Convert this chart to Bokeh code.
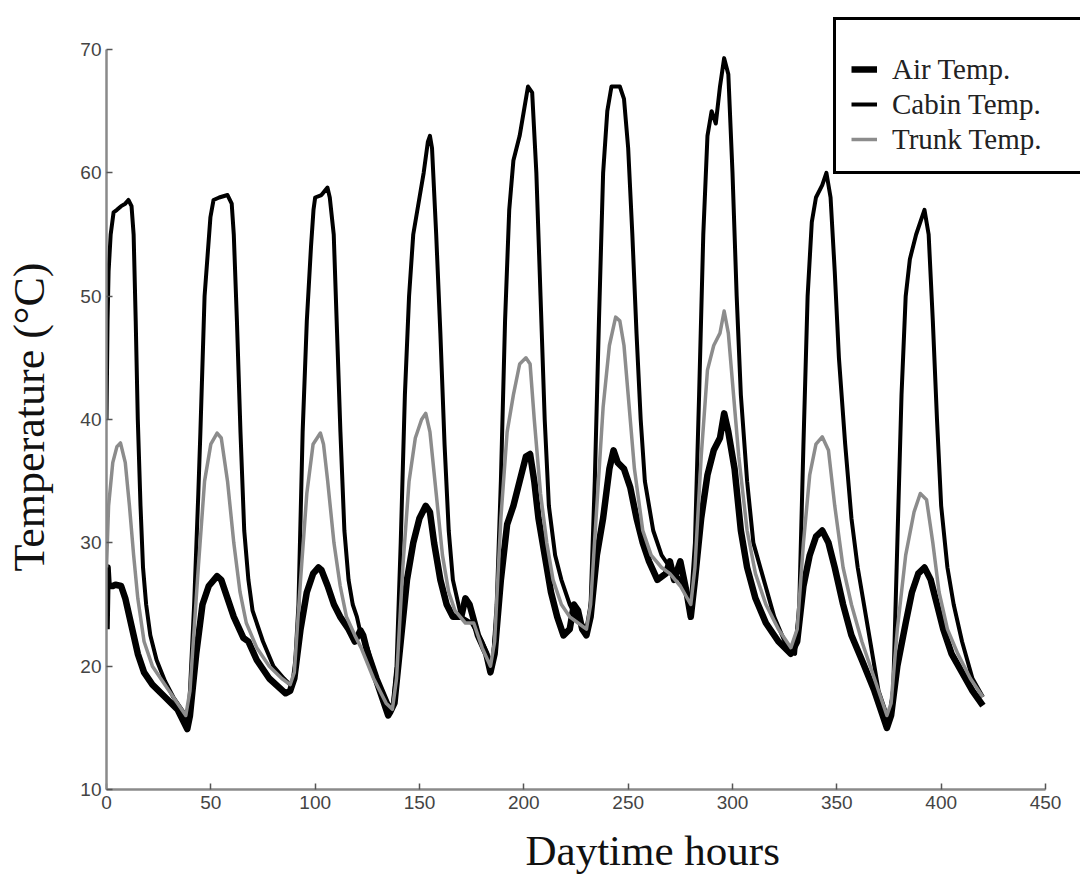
from bokeh.plotting import figure
from bokeh.models import Legend, LegendItem, Range1d, FixedTicker, Title
from bokeh.embed import file_html
from bokeh.resources import INLINE

# ---- data ----
x_ticks = [0, 50, 100, 150, 200, 250, 300, 350, 400, 450]
y_ticks = [10, 20, 30, 40, 50, 60, 70]

cabin_x = [0, 0.5, 1, 2, 3.4, 5, 7, 9, 10.5, 12, 13, 14, 15, 16.3, 17.5, 19, 21, 24, 28, 32, 36, 38, 39,
           40, 42, 44, 45, 47, 49.8, 51.3, 54, 58, 60, 61, 62.5, 64.2, 66, 68, 70, 75, 80, 85, 88,
           90, 92, 94, 96, 98, 99.2, 100, 103, 105.9, 107, 108.9, 110.5, 112.1, 114, 116, 118, 120, 122, 125, 130, 135, 137,
           139, 141, 143, 145, 147, 150, 152, 154, 155, 156, 158, 160, 162, 164, 166, 170, 175, 180, 185,
           187, 189, 191, 193, 195, 198, 200, 202, 204, 206, 208, 210, 212, 215, 218, 222, 225, 230,
           232, 234, 236, 238, 240, 242, 246, 248, 250, 252, 254, 256, 258, 262, 266, 270, 275, 280,
           282, 284, 286, 288, 290, 292, 294, 296, 298, 300, 302, 304, 307, 310, 315, 320, 325, 330,
           332, 334, 336, 338, 340, 343, 345, 347, 349, 351, 354, 357, 360, 365, 370, 375,
           377, 379, 381, 383, 385, 388, 390, 392, 394, 396, 398, 400, 403, 406, 410, 415, 420]
cabin_y = [40, 48, 52, 55, 56.8, 57, 57.3, 57.5, 57.8, 57.3, 55, 48, 40, 33, 28, 25, 22.5, 20.5, 18.8, 17.5, 16.5, 16, 15.5,
           18, 25, 34, 39, 50, 56.4, 57.8, 58, 58.2, 57.5, 55, 48, 39, 31, 27, 24.5, 22, 20, 19, 18.5,
           19, 25, 39, 48, 54, 57, 58, 58.2, 58.8, 58, 55, 47, 39, 31, 27, 25, 24, 22.5, 21.5, 19, 17, 16.5,
           20, 30, 42, 50, 55, 58, 60, 62.5, 63, 62, 55, 47, 38, 31, 27, 24, 23.5, 22, 20,
           25, 35, 48, 57, 61, 63, 65, 67, 66.5, 60, 50, 40, 33, 29, 27, 25, 24, 23,
           25, 35, 48, 60, 65, 67, 67, 66, 62, 55, 47, 40, 35, 31, 29, 28, 27, 25,
           30, 42, 55, 63, 65, 64, 67, 69.3, 68, 60, 50, 42, 35, 30, 27, 24, 22, 21,
           25, 38, 50, 56, 58, 59, 60, 58, 52, 45, 38, 32, 28, 23, 18, 15.5,
           18, 30, 42, 50, 53, 55, 56, 57, 55, 48, 40, 33, 28, 25, 22, 19, 17.5]

trunk_x = [0, 1, 3, 5, 6.7, 9, 11, 13, 15, 18, 22, 28, 34, 38,
           40, 44, 47, 50, 53, 55, 58, 61, 64, 67, 72, 78, 84, 88,
           90, 93, 96, 99, 102.5, 104, 106, 109, 112, 115, 119, 122, 128, 134, 137,
           139, 142, 145, 148, 151, 153, 155, 158, 161, 164, 167, 172, 176, 180, 184,
           186, 189, 192, 195, 198, 201, 203, 205, 208, 211, 214, 218, 222, 226, 230,
           232, 235, 238, 241, 244, 246, 248, 250, 253, 257, 261, 266, 270, 275, 280,
           282, 285, 288, 291, 294, 296, 298, 300, 303, 307, 311, 316, 322, 328,
           331, 334, 337, 340, 343, 346, 349, 353, 357, 362, 368, 374,
           376, 379, 383, 387, 390, 393, 396, 399, 403, 408, 414, 420]
trunk_y = [28, 33, 36.5, 37.8, 38.1, 36.5, 33, 29, 25.5, 22, 20, 18.5, 17, 16,
           18, 28, 35, 38, 38.9, 38.5, 35, 30, 26, 23.5, 21.5, 20, 19, 18.5,
           19.5, 27, 34, 38, 38.9, 38, 35, 30, 26.5, 24, 22.5, 21.5, 19, 17, 16.5,
           19, 28, 35, 38.5, 40, 40.5, 39, 34, 29, 26, 24.5, 23.5, 23.5, 21.5, 20,
           22, 32, 39, 42, 44.5, 45, 44.5, 40, 34, 30, 27, 25, 24, 23.5, 23,
           25, 33, 41, 46, 48.3, 48, 46, 42, 36, 31, 29, 28, 27.5, 26.5, 25,
           28, 37, 44, 46, 47, 48.8, 47, 43, 37, 31, 27.5, 25, 23, 21.5,
           23, 30, 35.5, 38, 38.6, 37.5, 33, 28, 25, 22, 19, 16,
           17, 23, 29, 32.5, 34, 33.5, 30, 26, 23, 21, 19, 17.5]

air_x = [0, 0.5, 1, 3, 4.3, 7, 9, 11, 13, 15, 18, 22, 28, 34, 38.7,
         40, 43, 46, 49, 53, 55, 58, 61, 65.6, 68, 72, 78, 85.8, 88,
         90, 93, 96, 99, 101.6, 103, 106, 109, 112, 116, 119, 121.7, 123, 126, 130, 135, 136,
         138, 141, 144, 147, 150, 153, 155, 157, 160, 163, 166, 170, 172, 174, 178, 182, 184,
         186, 189, 192, 195, 198, 201, 203, 205, 207, 210, 213, 216, 219, 222, 224, 226, 228, 230,
         232, 235, 238, 241, 243, 245, 248, 251, 254, 257, 260, 264, 268, 270, 272, 275, 278, 280,
         282, 285, 288, 291, 294, 296, 298, 301, 304, 307, 311, 316, 322, 328,
         331, 334, 337, 340, 343, 346, 349, 353, 357, 362, 368, 374,
         376, 379, 383, 386, 389, 392, 395, 398, 401, 405, 410, 415, 420]
air_y = [23, 28, 26.5, 26.5, 26.6, 26.5, 25.5, 24, 22.5, 21, 19.5, 18.5, 17.5, 16.5, 14.9,
         16, 21, 25, 26.5, 27.3, 27, 25.5, 24, 22.3, 22, 20.5, 19, 17.8, 18,
         19, 23, 26, 27.5, 28, 27.8, 26.5, 25, 24, 23, 22, 22.9, 22.5, 20.5, 18.5, 16, 16.3,
         17, 22, 27, 30, 32, 33, 32.5, 30, 27, 25, 24, 24, 25.5, 25, 22.5, 21, 19.5,
         21, 27, 31.5, 33, 35, 37, 37.2, 35, 32, 29, 26, 24, 22.5, 23, 25, 24.5, 23, 22.5,
         24, 29, 32, 36, 37.5, 36.5, 36, 34.5, 32, 30, 28.5, 27, 27.5, 28.5, 27, 28.5, 26, 24,
         27, 32, 35.5, 37.5, 38.5, 40.5, 39, 36, 31, 28, 25.5, 23.5, 22, 21,
         22, 26.5, 29, 30.5, 31, 30, 28, 25, 22.5, 20.5, 18, 15,
         16, 20, 23.5, 26, 27.5, 28, 27, 25, 23, 21, 19.5, 18, 16.8]

series_names = ["Air Temp.", "Cabin Temp.", "Trunk Temp."]
y_label = "Temperature (°C)"
x_label = "Daytime hours"

# ---- layout: frame spans from the left axis to the right/top edges so the
# legend (which overhangs the axes area) is not clipped; axes are bounded ----
FW, FH = 974, 789
x_end = 450 * FW / 939.0
y_top = 10 + 60 * FH / 740.0

p = figure(output_backend="svg", toolbar_location=None,
           frame_width=FW, frame_height=FH,
           min_border_left=106, min_border_top=0, min_border_right=0, min_border_bottom=85,
           x_range=Range1d(0, x_end), y_range=Range1d(10, y_top),
           background_fill_color="white", border_fill_color="white")
p.outline_line_color = None
p.grid.visible = False

for ax in (p.xaxis[0], p.yaxis[0]):
    ax.axis_line_color = "#8a8a8a"
    ax.axis_line_width = 2.5
    ax.major_tick_line_color = "#555555"
    ax.major_tick_line_width = 1.5
    ax.major_tick_in = 6
    ax.major_tick_out = 0
    ax.minor_tick_line_color = None
    ax.major_label_text_font = "Liberation Sans"
    ax.major_label_text_font_size = "19px"
    ax.major_label_text_color = "#444444"

p.xaxis.bounds = (0, 450)
p.yaxis.bounds = (10, 70)
p.xaxis.ticker = FixedTicker(ticks=x_ticks)
p.yaxis.ticker = FixedTicker(ticks=y_ticks)
p.xaxis.major_label_standoff = 6
p.yaxis.major_label_standoff = 5

# trailing no-break spaces shift the centred label down onto the axis span (10..70)
p.yaxis.axis_label = y_label + "\u00a0" * 4
p.yaxis.axis_label_text_font = "Liberation Serif"
p.yaxis.axis_label_text_font_size = "44px"
p.yaxis.axis_label_text_font_style = "normal"
p.yaxis.axis_label_text_color = "#111111"
p.yaxis.axis_label_standoff = 23

p.add_layout(Title(text=x_label, align="left", offset=419,
                   text_font="Liberation Serif", text_font_size="43px",
                   text_font_style="normal", text_color="#111111", standoff=26), "below")

r_air = p.line(air_x, air_y, line_color="black", line_width=6.5, line_join="round")
r_cab = p.line(cabin_x, cabin_y, line_color="black", line_width=4, line_join="round")
r_trk = p.line(trunk_x, trunk_y, line_color="#8c8c8c", line_width=3.5, line_join="round")

legend = Legend(items=[LegendItem(label=series_names[0], renderers=[r_air]),
                       LegendItem(label=series_names[1], renderers=[r_cab]),
                       LegendItem(label=series_names[2], renderers=[r_trk])],
                location=(727, 615), margin=0, padding=15, spacing=1,
                glyph_width=26, glyph_height=34, label_height=34, label_width=215,
                label_standoff=15, label_text_font="Liberation Serif",
                label_text_font_size="29px", label_text_color="#222222",
                border_line_color="black", border_line_width=3, border_line_alpha=1.0,
                background_fill_color="white", background_fill_alpha=1.0,
                title=" ", title_text_font_size="12px", title_standoff=3)
p.add_layout(legend, "center")

open("out.html", "w").write(file_html(p, INLINE))
